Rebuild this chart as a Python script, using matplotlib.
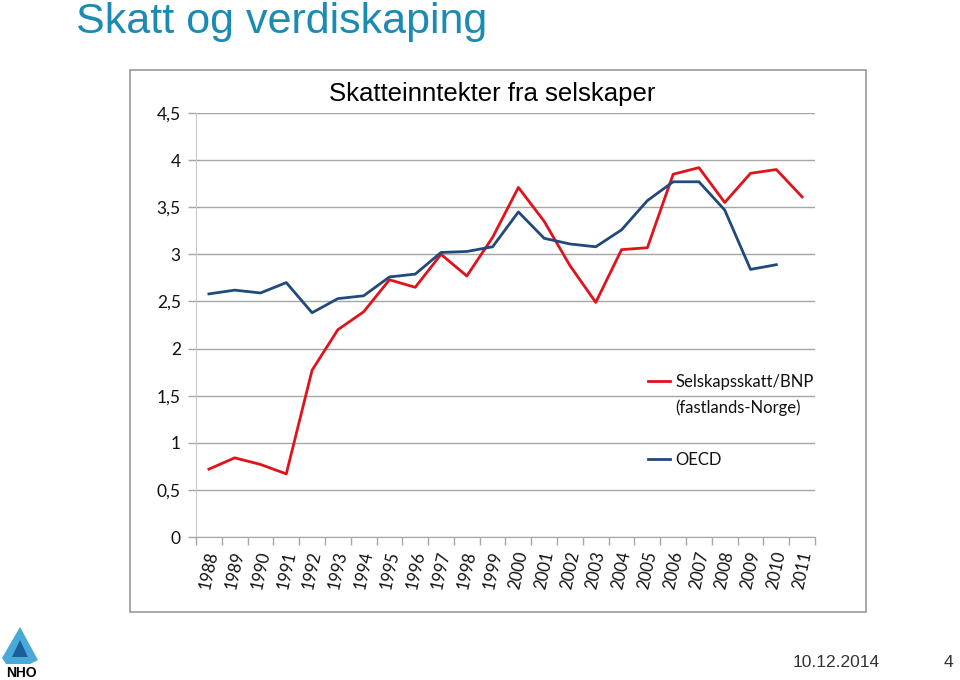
import matplotlib
matplotlib.use("Agg")
import matplotlib.pyplot as plt
from matplotlib.patches import Rectangle, Polygon
from matplotlib.lines import Line2D
import numpy as np

years = [str(y) for y in range(1988, 2012)]
selskapsskatt = [0.72, 0.84, 0.77, 0.67, 1.77, 2.20, 2.39, 2.73, 2.65, 3.00,
                 2.77, 3.18, 3.71, 3.35, 2.88, 2.49, 3.05, 3.07, 3.85, 3.92,
                 3.55, 3.86, 3.90, 3.61]
oecd = [2.58, 2.62, 2.59, 2.70, 2.38, 2.53, 2.56, 2.76, 2.79, 3.02,
        3.03, 3.08, 3.45, 3.17, 3.11, 3.08, 3.26, 3.57, 3.77, 3.77,
        3.47, 2.84, 2.89, None]
yticks = [0, 0.5, 1, 1.5, 2, 2.5, 3, 3.5, 4, 4.5]
ytick_labels = ["0", "0,5", "1", "1,5", "2", "2,5", "3", "3,5", "4", "4,5"]

RED = "#E0121B"
BLUE = "#1F4A7A"
GRID = "#A6A6A6"
TITLE_BLUE = "#1A8BB2"
CAL = ["Lato", "DejaVu Sans"]
ARIAL = ["Liberation Sans", "DejaVu Sans"]
NARROW = ["Liberation Sans Narrow", "Liberation Sans", "DejaVu Sans"]

fig = plt.figure(figsize=(9.6, 6.8), dpi=100)
fig.patch.set_facecolor("white")

# chart frame
fig.patches.append(Rectangle((130/960, 1-612/680), 736/960, 542/680,
                             transform=fig.transFigure, fill=False,
                             edgecolor="#A0A0A0", linewidth=1.3))

ax = fig.add_axes([196/960, 1-537/680, 619/960, 424/680])
x = np.arange(len(years))
ax.plot(x, selskapsskatt, color=RED, linewidth=2.0, solid_joinstyle="round",
        label="Selskapsskatt/BNP")
oecd_arr = np.array([np.nan if v is None else v for v in oecd], dtype=float)
ax.plot(x, oecd_arr, color=BLUE, linewidth=2.0, solid_joinstyle="round",
        label="OECD")

ax.set_xlim(-0.5, len(years) - 0.5)
ax.set_ylim(0, 4.5)
ax.set_yticks(yticks)
ax.set_yticklabels(ytick_labels, fontsize=12.5, family=CAL, color="#111111")
ax.yaxis.grid(True, color=GRID, linewidth=1.0)
ax.set_axisbelow(True)
ax.tick_params(axis="y", length=6, width=1.0, color=GRID, pad=5)

ax.set_xticks(x)
ax.set_xticklabels(years, rotation=78, fontsize=12, family=CAL,
                   ha="center", va="top", color="#111111")
ax.tick_params(axis="x", length=0, pad=9)
ax.set_xticks(np.arange(-0.5, len(years)), minor=True)
ax.tick_params(axis="x", which="minor", length=6, width=1.0, color=GRID)

for s in ["top", "right"]:
    ax.spines[s].set_visible(False)
ax.spines["left"].set_color("#C8C8C8")
ax.spines["bottom"].set_color(GRID)
ax.set_facecolor("white")

# legend
handles = [Line2D([], [], color=RED, linewidth=2.0),
           Line2D([], [], color="none"),
           Line2D([], [], color="none"),
           Line2D([], [], color=BLUE, linewidth=2.0)]
labels = ["Selskapsskatt/BNP", "(fastlands-Norge)", " ", "OECD"]
leg = ax.legend(handles, labels, loc="upper left",
                bbox_to_anchor=((648-196)/619, (537-374)/424),
                frameon=False, borderpad=0, borderaxespad=0,
                handlelength=1.35, handletextpad=0.3, labelspacing=0.58,
                prop={"family": CAL, "size": 12})
for t in leg.get_texts():
    t.set_color("#111111")

# chart title
fig.text(492/960, 1-94/680, "Skatteinntekter fra selskaper", ha="center",
         va="center", fontsize=18.5, family=ARIAL, color="black")

# slide title
fig.text(76/960, 1-33/680, "Skatt og verdiskaping", ha="left",
         va="baseline", fontsize=31, family=ARIAL, color=TITLE_BLUE)

# footer
fig.text(880/960, 1-667/680, "10.12.2014", ha="right", va="baseline",
         fontsize=12.5, family=NARROW, color="#333333")
fig.text(953/960, 1-667/680, "4", ha="right", va="baseline",
         fontsize=12.5, family=NARROW, color="#333333")

# NHO logo (simple)
logo_pts = [(20, 627), (38, 660), (30, 664), (6, 664), (2, 658)]
fig.patches.append(Polygon([(px/960, 1-py/680) for px, py in logo_pts],
                           closed=True, transform=fig.transFigure,
                           facecolor="#49A9D8", edgecolor="none"))
inner = [(20, 640), (28, 657), (12, 657)]
fig.patches.append(Polygon([(px/960, 1-py/680) for px, py in inner],
                           closed=True, transform=fig.transFigure,
                           facecolor="#1C5E9C", edgecolor="none"))
fig.text(21/960, 1-673/680, "NHO", ha="center", va="center", fontsize=10,
         family=ARIAL, weight="bold", color="black")

fig.savefig("out.png", dpi=100)
